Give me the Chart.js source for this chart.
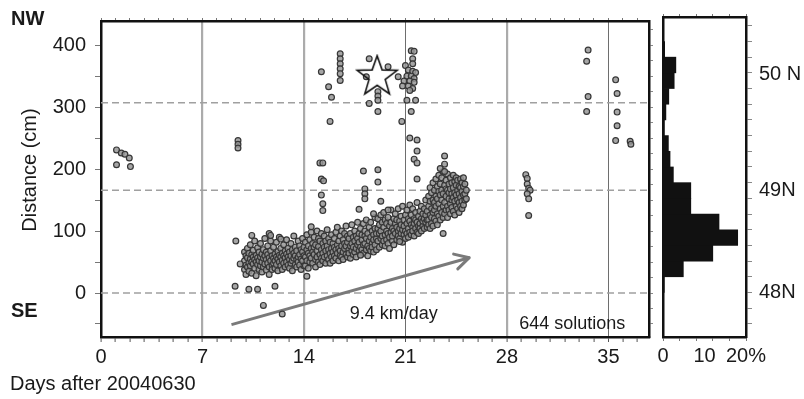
<!DOCTYPE html>
<html>
<head>
<meta charset="utf-8">
<script src="https://cdn.jsdelivr.net/npm/chart.js@4.4.1/dist/chart.umd.min.js"></script>
<style>
  html, body { margin: 0; padding: 0; background: #fff; }
  #wrap { position: relative; width: 804px; height: 399px; overflow: hidden; }
  #main { position: absolute; left: 0; top: 0; }
  #hist { position: absolute; left: 640px; top: 0; }
</style>
</head>
<body>
<div id="wrap">
  <canvas id="main" width="660" height="399"></canvas>
  <canvas id="hist" width="164" height="399"></canvas>
</div>
<script>
// ---- data: position solutions, [day after 2004-06-30, distance cm] ----
const earlyFixes = [[1.07,231],[1.4,226],[1.65,224],[1.95,218],[1.07,207],[2.03,204],
  [9.45,246],[9.45,240],[9.45,234]];

// rows: [day, distance, distance, ...]
const bandWeek2 = [
  [9.9,52,38,66],[10.0,45,60,30],[10.1,57,72,42],[10.2,49,35,64],[10.3,55,78,44],[10.4,62,32,50],
  [10.5,47,69,58],[10.6,40,54,84],[10.7,61,28,50],[10.8,46,73,57],[10.9,66,38,52],[11.0,58,44,80],
  [11.1,50,63,34],[11.2,70,56,42],[11.3,47,88,60],[11.4,54,37,66],[11.5,62,48,76],[11.6,42,57,30],
  [11.7,68,52,84],[11.8,45,60,38],[11.9,56,74,48],[12.0,63,40,52],[12.1,58,82,46],[12.2,36,67,55],
  [12.3,50,61,90],[12.4,72,44,58],[12.5,53,64,38],[12.6,48,78,60],[12.7,57,42,68],[12.8,63,86,50],
  [12.9,45,58,72],[13.0,66,40,54],[13.1,60,80,48],[13.2,52,70,36],[13.3,64,56,92],[13.4,46,74,60],
  [13.5,68,54,42],[13.6,58,84,50],[13.7,62,45,76],[13.8,55,70,38],[13.9,66,52,88],[14.0,60,44,74]
];
const bandWeek3 = [
  [14.1,58,82,44],[14.2,70,52,94],[14.3,64,40,76],[14.4,86,60,50],[14.5,72,98,56],[14.6,48,66,80],
  [14.7,62,90,74],[14.8,54,78,42],[14.9,68,58,100],[15.0,75,50,88],[15.1,62,84,46],[15.2,70,56,96],
  [15.3,80,64,52],[15.4,58,92,74],[15.5,68,48,84],[15.6,76,102,60],[15.7,54,70,88],[15.8,82,64,48],
  [15.9,72,94,58],[16.0,66,80,52],[16.1,88,74,60],[16.2,56,98,70],[16.3,78,64,106],[16.4,84,52,72],
  [16.5,68,92,60],[16.6,76,58,100],[16.7,86,66,54],[16.8,72,96,80],[16.9,62,108,76],[17.0,82,58,92],
  [17.1,70,88,64],[17.2,96,76,56],[17.3,80,68,110],[17.4,90,62,74],[17.5,84,100,66],[17.6,72,92,58],
  [17.7,88,78,114],[17.8,68,96,82],[17.9,104,74,62],[18.0,86,94,70],[18.1,78,112,64],[18.2,92,80,100],
  [18.3,70,88,118],[18.4,96,76,60],[18.5,84,106,72],[18.6,90,68,114],[18.7,80,100,74],[18.8,94,66,86],
  [18.9,104,78,122],[19.0,88,96,70]
];
const bandWeek4 = [
  [19.1,84,104,120],[19.2,96,74,110],[19.3,88,126,100],[19.4,78,92,114],[19.5,106,84,130],
  [19.6,94,118,76],[19.7,100,86,112],[19.8,122,96,80],[19.9,90,108,72],[20.0,114,98,134],
  [20.1,84,104,92],[20.2,120,100,78],[20.3,96,112,128],[20.4,86,106,118],[20.5,100,136,92],
  [20.6,116,88,104],[20.7,96,124,110],[20.8,82,102,140],[20.9,108,94,118],[21.0,126,100,88],
  [21.1,112,96,134],[21.2,104,120,90],[21.3,116,98,142],[21.4,94,110,126],[21.5,106,136,100],
  [21.6,120,92,112],[21.7,130,104,118],[21.8,98,114,146],[21.9,124,108,96],[22.0,112,132,104],
  [22.1,120,100,140],[22.2,108,128,116],[22.3,136,104,120],[22.4,114,126,150],[22.5,106,132,118]
];
const bandWeek4End = [
  [22.6,118,140,110,156],[22.7,126,104,148,170],[22.8,112,136,162,122],[22.9,130,150,108,178],
  [23.0,120,146,166,134],[23.1,140,116,184,156],[23.2,128,152,110,172],[23.3,144,124,164,190],
  [23.4,136,158,118,176],[23.5,150,130,186,166],[23.6,122,160,140,196],[23.7,146,174,128,208],
  [23.8,156,134,182,168],[23.9,140,166,192,122],[24.0,152,176,134,162],[24.1,168,144,186,128],
  [24.2,138,160,178,150],[24.3,170,132,154,190],[24.4,148,180,162,126],[24.5,158,140,174,186],
  [24.6,136,166,150,182],[24.7,172,146,160,130],[24.8,154,184,140,170],[24.9,164,148,178,136],
  [25.0,142,172,158,186],[25.1,160,150,176],[25.2,166,152]
];
const outliers = [[9.3,84],[9.6,47],[9.25,11],[10.2,6],[10.8,6],[12.0,11],[11.2,-20],[12.5,-34],
  [10.4,93],[11.6,96],[11.7,93],[12.4,87],[14.2,27],[14.5,107],[23.6,96],[20.6,83],[17.9,61],
  [23.7,221],[23.4,201],[23.7,196]];
const northCluster = [[15.2,357],[15.7,333],[15.9,316],[15.8,277],[16.5,386],[16.5,378],[16.5,370],
  [16.5,362],[16.5,354],[16.5,343],[18.5,378],[19.8,365],[18.5,306],[19.1,325],[19.1,318],[19.1,311],
  [19.1,293],[18.3,349],[21.4,391],[21.6,390],[21.5,378],[21.0,367],[21.5,370],[21.2,360],[21.5,358],
  [21.7,356],[21.1,350],[21.4,350],[21.6,346],[20.9,342],[21.3,342],[21.6,340],[20.8,334],[21.2,334],
  [21.5,330],[21.3,327],[21.1,311],[21.7,311],[21.4,293],[20.5,349],[20.75,277],[21.3,250],[21.8,247],
  [21.8,229],[21.6,216],[21.8,210],[21.8,184],[15.1,210],[15.3,210],[15.2,184],[15.35,181],[15.2,158],
  [15.3,144],[15.3,133],[18.1,197],[19.1,199],[19.1,179],[18.2,168],[18.2,160],[18.2,152],[19.3,148],
  [17.8,135],[18.8,128],[19.8,134]];
const lateFixes = [[29.3,191],[29.4,185],[29.4,176],[29.5,169],[29.6,166],[29.4,160],[29.5,152],
  [29.5,125],[33.6,392],[33.5,374],[33.6,317],[33.5,293],[35.5,344],[35.6,322],[35.6,292],[35.6,270],
  [35.5,246],[36.5,245],[36.55,240]];

const starPosition = [19.05, 349];
const guideLevels = [0, 166, 307];
const driftArrow = [[9.0, -51], [25.4, 57]];
const driftLabel = '9.4 km/day';
const countLabel = '644 solutions';

// histogram of distances, 25 cm bins (centre, percent of solutions)
const histCentres = [12.5,37.5,62.5,87.5,112.5,137.5,162.5,187.5,212.5,237.5,262.5,287.5,312.5,337.5,362.5,387.5];
const histPercent = [0.3,4.9,12.0,18.0,13.5,6.7,6.7,2.5,1.7,1.3,0.3,0.7,1.4,2.7,3.1,0.4];
const latLabels = [['50 N', 347], ['49N', 162], ['48N', 0]];

const dayTickLabels = [0, 7, 14, 21, 28, 35];
const cmTickLabels = [0, 100, 200, 300, 400];
const pctTickLabels = [0, 10, 20];

// ---- axis ranges ----
const X_MIN = 0, X_MAX = 37.8, Y_MIN = -71, Y_MAX = 439;

const FONT = '"Liberation Sans", Arial, Helvetica, sans-serif';
Chart.defaults.font.family = FONT;
Chart.defaults.color = '#1a1a1a';

const range = (a, b, s) => { const out = []; for (let v = a; v <= b + 1e-9; v += s) out.push(+v.toFixed(3)); return out; };
const rowsToPoints = rows => rows.flatMap(r => r.slice(1).map(v => ({ x: r[0], y: v })));
const pairsToPoints = pairs => pairs.map(([x, y]) => ({ x, y }));

const allFixes = [].concat(
  pairsToPoints(earlyFixes),
  rowsToPoints(bandWeek2), rowsToPoints(bandWeek3), rowsToPoints(bandWeek4), rowsToPoints(bandWeek4End),
  pairsToPoints(outliers), pairsToPoints(northCluster), pairsToPoints(lateFixes)
);

function starGlyph() {
  const c = document.createElement('canvas');
  c.width = 46; c.height = 46;
  const g = c.getContext('2d');
  g.beginPath();
  for (let i = 0; i < 10; i++) {
    const r = i % 2 ? 8.5 : 21;
    const a = -Math.PI / 2 + i * Math.PI / 5;
    const px = 23 + r * Math.cos(a), py = 23 + r * Math.sin(a);
    if (i) g.lineTo(px, py); else g.moveTo(px, py);
  }
  g.closePath();
  g.lineWidth = 1.6;
  g.strokeStyle = '#111';
  g.stroke();
  return c;
}

const BORDER = { display: true, color: '#111', width: 2.5 };
const tickObjs = vals => vals.map(v => ({ value: v }));

// arrowhead at the end of the drift line
const arrowHead = {
  id: 'arrowHead',
  afterDatasetsDraw(chart) {
    const meta = chart.getDatasetMeta(2);
    const [p0, p1] = meta.data;
    const ang = Math.atan2(p1.y - p0.y, p1.x - p0.x) + Math.PI;
    const ctx = chart.ctx;
    ctx.save();
    ctx.strokeStyle = '#7a7a7a';
    ctx.lineWidth = 3;
    ctx.lineCap = 'round';
    ctx.beginPath();
    for (const d of [0.5, -0.5]) {
      ctx.moveTo(p1.x, p1.y);
      ctx.lineTo(p1.x + 16 * Math.cos(ang + d), p1.y + 16 * Math.sin(ang + d));
    }
    ctx.stroke();
    ctx.restore();
  }
};

const mainText = {
  id: 'mainText',
  afterDraw(chart) {
    const { ctx, scales: { x, y } } = chart;
    ctx.save();
    ctx.fillStyle = '#1a1a1a';
    ctx.textBaseline = 'middle';
    ctx.textAlign = 'left';
    ctx.font = 'bold 20px ' + FONT;
    ctx.fillText('NW', 11, 19);
    ctx.fillText('SE', 11, 311);
    ctx.font = '20px ' + FONT;
    ctx.fillText('Days after 20040630', 10, 384);
    ctx.save();
    ctx.translate(30, 170);
    ctx.rotate(-Math.PI / 2);
    ctx.textAlign = 'center';
    ctx.fillText('Distance (cm)', 0, 0);
    ctx.restore();
    ctx.font = '18px ' + FONT;
    ctx.textAlign = 'center';
    ctx.fillText(driftLabel, x.getPixelForValue(20.2), y.getPixelForValue(-34));
    ctx.fillText(countLabel, x.getPixelForValue(32.5), y.getPixelForValue(-50));
    ctx.restore();
  }
};

new Chart(document.getElementById('main'), {
  type: 'scatter',
  data: {
    datasets: [
      { data: allFixes, order: 1, pointRadius: 2.9, borderWidth: 1.2,
        borderColor: '#363636', backgroundColor: 'rgba(150,150,150,0.85)' },
      { data: [{ x: starPosition[0], y: starPosition[1] }], order: 0, pointStyle: starGlyph(), pointRadius: 10 },
      { data: pairsToPoints(driftArrow), order: 2, showLine: true, pointRadius: 0,
        borderColor: '#7a7a7a', borderWidth: 3 },
      ...guideLevels.map(v => ({
        data: [{ x: X_MIN, y: v }, { x: X_MAX, y: v }], order: 3, showLine: true, pointRadius: 0,
        borderColor: '#a0a0a0', borderWidth: 1.5, borderDash: [7, 4]
      }))
    ]
  },
  options: {
    responsive: false, animation: false, devicePixelRatio: 1,
    layout: { padding: 0 },
    plugins: { legend: { display: false }, tooltip: { enabled: false } },
    scales: {
      x: {
        type: 'linear', position: 'bottom', min: X_MIN, max: X_MAX,
        afterBuildTicks: s => { s.ticks = tickObjs(range(0, 37, 1)); },
        afterFit: s => { s.height = 62; },
        ticks: { autoSkip: false, maxRotation: 0, padding: 3, font: { size: 20 },
          callback: v => dayTickLabels.includes(v) ? String(v) : '' },
        grid: {
          drawOnChartArea: true, tickLength: 5, tickColor: '#555', tickWidth: 1,
          color: c => {
            const v = c.tick ? c.tick.value : 0;
            if (v === 21 || v === 35) return '#6e6e6e';
            if (v === 7 || v === 14 || v === 28) return '#ababab';
            return 'rgba(0,0,0,0)';
          },
          lineWidth: c => {
            const v = c.tick ? c.tick.value : 0;
            return (v === 21 || v === 35) ? 1 : 2.2;
          }
        },
        border: BORDER
      },
      x2: {
        type: 'linear', position: 'top', min: X_MIN, max: X_MAX,
        afterBuildTicks: s => { s.ticks = tickObjs(range(0, 37, 1)); },
        afterFit: s => { s.height = 17; },
        ticks: { display: false },
        grid: { drawOnChartArea: false, tickLength: 3, tickColor: '#777', tickWidth: 1 },
        border: BORDER
      },
      y: {
        type: 'linear', position: 'left', min: Y_MIN, max: Y_MAX,
        afterBuildTicks: s => { s.ticks = tickObjs(range(-50, 400, 50)); },
        afterFit: s => { s.width = 101; },
        ticks: { autoSkip: false, padding: 9, font: { size: 20 },
          callback: v => cmTickLabels.includes(v) ? String(v) : '' },
        grid: { drawOnChartArea: false, tickLength: 6, tickColor: '#777', tickWidth: 1 },
        border: BORDER
      },
      y2: {
        type: 'linear', position: 'right', min: Y_MIN, max: Y_MAX,
        afterBuildTicks: s => { s.ticks = tickObjs(range(-50, 425, 25)); },
        afterFit: s => { s.width = 5; },
        ticks: { display: false },
        grid: { drawOnChartArea: false, tickLength: 4, tickColor: '#888', tickWidth: 1 },
        border: BORDER
      }
    }
  },
  plugins: [arrowHead, mainText]
});

const latText = {
  id: 'latText',
  afterDraw(chart) {
    const { ctx, chartArea, scales: { y } } = chart;
    ctx.save();
    ctx.fillStyle = '#1a1a1a';
    ctx.font = '20px ' + FONT;
    ctx.textAlign = 'left';
    ctx.textBaseline = 'middle';
    for (const [txt, v] of latLabels) ctx.fillText(txt, chartArea.right + 13, y.getPixelForValue(v));
    ctx.restore();
  }
};

new Chart(document.getElementById('hist'), {
  type: 'bar',
  data: {
    datasets: [{
      data: histCentres.map((c, i) => ({ x: histPercent[i], y: c })),
      backgroundColor: '#111', borderWidth: 0, barPercentage: 1, categoryPercentage: 1
    }]
  },
  options: {
    indexAxis: 'y',
    responsive: false, animation: false, devicePixelRatio: 1,
    layout: { padding: 0 },
    plugins: { legend: { display: false }, tooltip: { enabled: false } },
    scales: {
      x: {
        type: 'linear', position: 'bottom', min: 0, max: 20,
        afterBuildTicks: s => { s.ticks = tickObjs([0, 4, 8, 10, 12, 16, 20]); },
        afterFit: s => { s.height = 62; },
        ticks: { autoSkip: false, maxRotation: 0, padding: 3, font: { size: 20 },
          callback: v => pctTickLabels.includes(v) ? (v === 20 ? '20%' : String(v)) : '' },
        grid: { drawOnChartArea: false, tickLength: 4, tickWidth: 1,
          tickColor: c => (c.tick && c.tick.value === 10) ? 'rgba(0,0,0,0)' : '#777' },
        border: BORDER
      },
      x2: {
        type: 'linear', position: 'top', min: 0, max: 20,
        afterBuildTicks: s => { s.ticks = tickObjs([0, 4, 8, 12, 16, 20]); },
        afterFit: s => { s.height = 17; },
        ticks: { display: false },
        grid: { drawOnChartArea: false, tickLength: 3, tickColor: '#777', tickWidth: 1 },
        border: BORDER
      },
      y: {
        type: 'linear', position: 'left', min: Y_MIN, max: Y_MAX, offset: false,
        afterFit: s => { s.width = 23; },
        ticks: { display: false },
        grid: { display: false, drawTicks: false, offset: false },
        border: BORDER
      },
      y2: {
        type: 'linear', position: 'right', min: Y_MIN, max: Y_MAX, offset: false,
        afterBuildTicks: s => { s.ticks = tickObjs(range(-50, 425, 25)); },
        afterFit: s => { s.width = 58; },
        ticks: { display: false },
        grid: { drawOnChartArea: false, offset: false, tickLength: 6, tickColor: '#888', tickWidth: 1 },
        border: BORDER
      }
    }
  },
  plugins: [latText]
});
</script>
</body>
</html>
